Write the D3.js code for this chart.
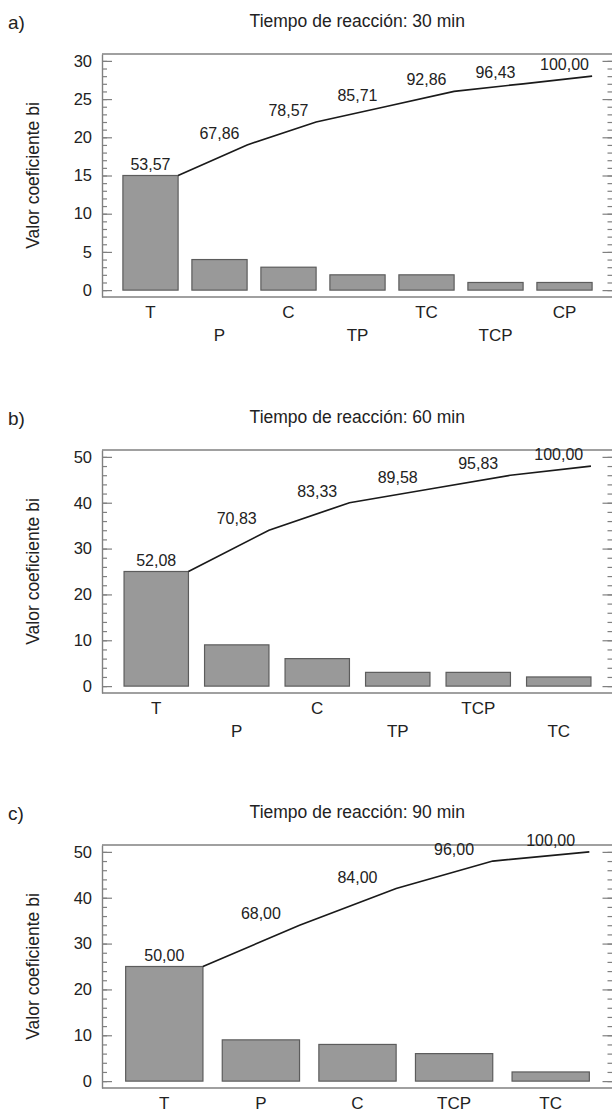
<!DOCTYPE html>
<html>
<head>
<meta charset="utf-8">
<script src="https://cdn.jsdelivr.net/npm/d3@7"></script>
<style>
  body { margin: 0; background: #fff; }
  svg { display: block; font-family: "Liberation Sans", Arial, sans-serif; }
</style>
</head>
<body>
<svg width="612" height="1110"></svg>
<script>
// Datos de los tres diagramas de Pareto
const categoriasA = ["T", "P", "C", "TP", "TC", "TCP", "CP"];
const valoresA = [15, 4, 3, 2, 2, 1, 1];
const porcentajesA = ["53,57", "67,86", "78,57", "85,71", "92,86", "96,43", "100,00"];
const ticksA = [0, 5, 10, 15, 20, 25, 30];

const categoriasB = ["T", "P", "C", "TP", "TCP", "TC"];
const valoresB = [25, 9, 6, 3, 3, 2];
const porcentajesB = ["52,08", "70,83", "83,33", "89,58", "95,83", "100,00"];
const ticksB = [0, 10, 20, 30, 40, 50];

const categoriasC = ["T", "P", "C", "TCP", "TC"];
const valoresC = [25, 9, 8, 6, 2];
const porcentajesC = ["50,00", "68,00", "84,00", "96,00", "100,00"];
const ticksC = [0, 10, 20, 30, 40, 50];

const titulos = ["Tiempo de reacción: 30 min", "Tiempo de reacción: 60 min", "Tiempo de reacción: 90 min"];
const letras = ["a)", "b)", "c)"];

const svg = d3.select("svg");

// Geometría común
const left = 102, right = 612.5, alto = 243;
const gris = "#808080";

const paneles = [
  {cats: categoriasA, vals: valoresA, pct: porcentajesA, ticks: ticksA, menor: 1, top: 54, escalonado: true},
  {cats: categoriasB, vals: valoresB, pct: porcentajesB, ticks: ticksB, menor: 2, top: 450, escalonado: true},
  {cats: categoriasC, vals: valoresC, pct: porcentajesC, ticks: ticksC, menor: 2, top: 845, escalonado: false}
];

paneles.forEach((p, i) => {
  const max = d3.max(p.ticks);
  const bottom = p.top + alto;
  const g = svg.append("g");

  const x = d3.scaleBand()
    .domain(p.cats)
    .range([116, 599])
    .paddingInner(0.2)
    .paddingOuter(0.1);

  const y = d3.scaleLinear()
    .domain([-0.03 * max, 1.03 * max])
    .range([bottom, p.top]);

  // Título y letra del panel
  g.append("text")
    .attr("x", (left + right) / 2)
    .attr("y", p.top - 27)
    .attr("text-anchor", "middle")
    .attr("font-size", 17.5)
    .attr("fill", "#222")
    .text(titulos[i]);

  g.append("text")
    .attr("x", 8)
    .attr("y", p.top - 25)
    .attr("font-size", 19)
    .attr("fill", "#222")
    .text(letras[i]);

  // Marco (arriba y abajo)
  g.append("line")
    .attr("x1", left).attr("x2", right)
    .attr("y1", p.top).attr("y2", p.top)
    .attr("stroke", gris).attr("stroke-width", 1.4);
  g.append("line")
    .attr("x1", left).attr("x2", right)
    .attr("y1", bottom).attr("y2", bottom)
    .attr("stroke", gris).attr("stroke-width", 1.4);

  const menores = d3.range(0, max + p.menor / 2, p.menor);

  // Eje Y izquierdo
  const ejeY = g.append("g")
    .attr("transform", `translate(${left},0)`)
    .call(d3.axisLeft(y).tickValues(p.ticks).tickSizeInner(-10).tickSizeOuter(0).tickPadding(10));
  ejeY.select(".domain").attr("stroke", gris).attr("stroke-width", 1.4);
  ejeY.selectAll(".tick line").attr("stroke", gris).attr("stroke-width", 1.2);
  ejeY.selectAll("text").attr("font-size", 16.5).attr("fill", "#222")
    .attr("font-family", "Liberation Sans, Arial, sans-serif");

  g.append("g")
    .attr("transform", `translate(${left},0)`)
    .call(d3.axisLeft(y).tickValues(menores).tickSizeInner(-5).tickSizeOuter(0).tickFormat(""))
    .call(s => s.select(".domain").remove())
    .selectAll(".tick line").attr("stroke", gris).attr("stroke-width", 1.2);

  // Eje Y derecho (solo marcas)
  g.append("g")
    .attr("transform", `translate(${right},0)`)
    .call(d3.axisRight(y).tickValues(p.ticks).tickSizeInner(-10).tickSizeOuter(0).tickFormat(""))
    .call(s => s.select(".domain").remove())
    .selectAll(".tick line").attr("stroke", gris).attr("stroke-width", 1.2);
  g.append("g")
    .attr("transform", `translate(${right},0)`)
    .call(d3.axisRight(y).tickValues(menores).tickSizeInner(-5).tickSizeOuter(0).tickFormat(""))
    .call(s => s.select(".domain").remove())
    .selectAll(".tick line").attr("stroke", gris).attr("stroke-width", 1.2);

  // Barras
  g.selectAll("rect.barra")
    .data(p.vals)
    .join("rect")
    .attr("class", "barra")
    .attr("x", (d, j) => x(p.cats[j]))
    .attr("y", d => y(d))
    .attr("width", x.bandwidth())
    .attr("height", d => y(0) - y(d))
    .attr("fill", "#999")
    .attr("stroke", "#5c5c5c")
    .attr("stroke-width", 1.2);

  // Línea acumulada (por el borde derecho de cada barra)
  const acum = Array.from(d3.cumsum(p.vals));
  const linea = d3.line()
    .x((d, j) => x(p.cats[j]) + x.bandwidth())
    .y(d => y(d));
  g.append("path")
    .datum(acum)
    .attr("d", linea)
    .attr("fill", "none")
    .attr("stroke", "#1a1a1a")
    .attr("stroke-width", 1.7);

  // Porcentajes acumulados
  g.selectAll("text.pct")
    .data(p.pct)
    .join("text")
    .attr("class", "pct")
    .attr("x", (d, j) => x(p.cats[j]) + x.bandwidth() / 2)
    .attr("y", (d, j) => y(acum[j]) - 6)
    .attr("text-anchor", "middle")
    .attr("font-size", 16)
    .attr("fill", "#222")
    .text(d => d);

  // Etiquetas de categorías
  g.selectAll("text.cat")
    .data(p.cats)
    .join("text")
    .attr("class", "cat")
    .attr("x", d => x(d) + x.bandwidth() / 2)
    .attr("y", (d, j) => bottom + (p.escalonado && j % 2 === 1 ? 44 : 21))
    .attr("text-anchor", "middle")
    .attr("font-size", 17)
    .attr("fill", "#222")
    .text(d => d);

  // Título del eje Y
  g.append("text")
    .attr("transform", `translate(39,${(p.top + bottom) / 2}) rotate(-90)`)
    .attr("text-anchor", "middle")
    .attr("font-size", 17.5)
    .attr("fill", "#222")
    .text("Valor coeficiente bi");
});
</script>
</body>
</html>
